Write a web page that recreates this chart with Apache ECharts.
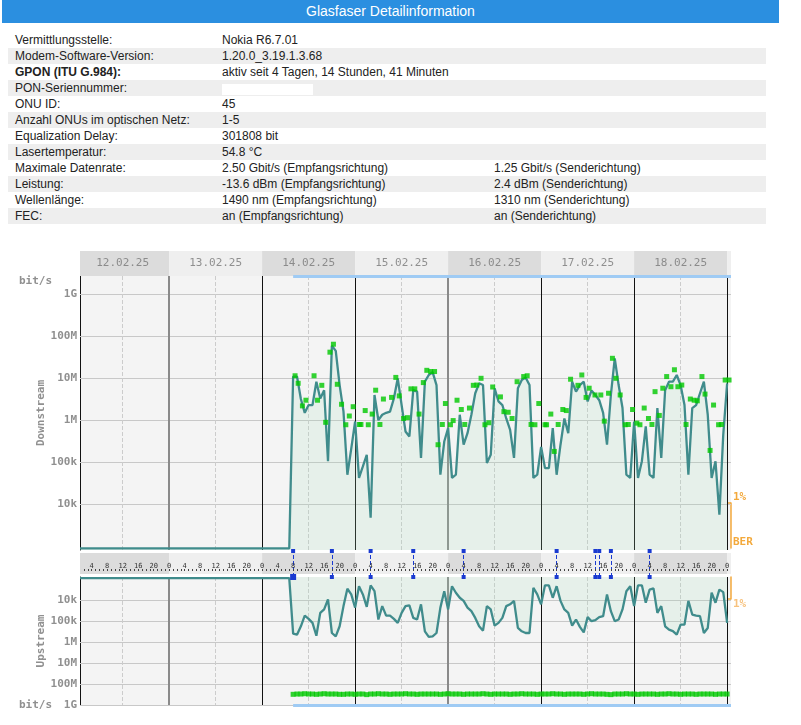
<!DOCTYPE html>
<html>
<head>
<meta charset="utf-8">
<title>Glasfaser Detailinformation</title>
<script src="https://cdn.jsdelivr.net/npm/echarts@6/dist/echarts.min.js"></script>
<style>
    body { margin: 0; background: #fff; font-family: "Liberation Sans", Arial, sans-serif; color: #222; }
    #kopf { position: absolute; left: 2px; top: 0; width: 777px; height: 23px; line-height: 23px;
            background: #2b8fe0; color: #fff; font-size: 14px; text-align: center; }
    .r { position: absolute; left: 8px; width: 758px; height: 16px; line-height: 17px; font-size: 12px; }
    .r.g { background: #eeeeee; }
    .r span { position: absolute; top: 0; white-space: nowrap; }
    .a { left: 7px; } .b { left: 214px; } .c { left: 486px; }
    .leer { position: absolute; left: 214px; top: 4px; width: 91px; height: 11px; background: #fff; }
    #main { position: absolute; left: 0; top: 240px; width: 801px; height: 485px; }
</style>
</head>
<body>
<div id="kopf">Glasfaser Detailinformation</div>
<div class="r" style="top:32px"><span class="a">Vermittlungsstelle:</span><span class="b">Nokia R6.7.01</span></div>
<div class="r g" style="top:48px"><span class="a">Modem-Software-Version:</span><span class="b">1.20.0_3.19.1.3.68</span></div>
<div class="r" style="top:64px"><span class="a"><b>GPON (ITU G.984):</b></span><span class="b">aktiv seit 4 Tagen, 14 Stunden, 41 Minuten</span></div>
<div class="r g" style="top:80px"><span class="a">PON-Seriennummer:</span><div class="leer"></div></div>
<div class="r" style="top:96px"><span class="a">ONU ID:</span><span class="b">45</span></div>
<div class="r g" style="top:112px"><span class="a">Anzahl ONUs im optischen Netz:</span><span class="b">1-5</span></div>
<div class="r" style="top:128px"><span class="a">Equalization Delay:</span><span class="b">301808 bit</span></div>
<div class="r g" style="top:144px"><span class="a">Lasertemperatur:</span><span class="b">54.8 °C</span></div>
<div class="r" style="top:160px"><span class="a">Maximale Datenrate:</span><span class="b">2.50 Gbit/s (Empfangsrichtung)</span><span class="c">1.25 Gbit/s (Senderichtung)</span></div>
<div class="r g" style="top:176px"><span class="a">Leistung:</span><span class="b">-13.6 dBm (Empfangsrichtung)</span><span class="c">2.4 dBm (Senderichtung)</span></div>
<div class="r" style="top:192px"><span class="a">Wellenlänge:</span><span class="b">1490 nm (Empfangsrichtung)</span><span class="c">1310 nm (Senderichtung)</span></div>
<div class="r g" style="top:208px"><span class="a">FEC:</span><span class="b">an (Empfangsrichtung)</span><span class="c">an (Senderichtung)</span></div>

<div id="main"></div>
<script type="text/javascript">
    // Zeitachse in Stunden ab 12.02.25 00:00
    var xMin = 1, xMax = 169;
    var dayLabels = ['12.02.25', '13.02.25', '14.02.25', '15.02.25', '16.02.25', '17.02.25', '18.02.25'];
    var dayBorderHours = [24, 48, 72, 96, 120, 144, 168];
    var weekBorderHours = [24, 96];
    var noonHours = [12, 36, 60, 84, 108, 132, 156];
    var stripLabelHours = [4, 8, 12, 16, 20, 24];
    var rateTickValues = [1e4, 1e5, 1e6, 1e7, 1e8, 1e9];
    var rateTickLabels = ['10k', '100k', '1M', '10M', '100M', '1G'];
    var berLabels = ['BER', '1%'];

    var firstHour = 56;          // 14.02.25 08:00, ab hier stuendliche Werte
    var dsFloorRate = 870;       // vor Sync: Linie am unteren Rand
    var usFloorRate = 900;
    var eventHours = [56, 66, 76, 87, 100, 124, 134, 135, 138, 148];

    // Downstream bit/s, Stunde 56..168
    var dsRate = [
        11e6, 11e6, 3.2e6, 1.5e6, 2.3e6, 2.3e6, 8.3e6, 3.3e6, 5.2e6, 105e3, 60e6, 45e6,
        6.9e6, 1.6e6, 50e3, 210e3, 930e3, 42e3, 79e3, 150e3, 4.7e3, 4e6, 1e6, 1.35e6,
        1.5e6, 1.6e6, 3.3e6, 10e6, 2.3e6, 540e3, 410e3, 5.2e6, 4.8e6, 126e3, 8.3e6, 12e6,
        14e6, 6.9e6, 50e3, 310e3, 650e3, 42e3, 50e3, 1.35e6, 260e3, 490e3, 1.35e6, 4.4e6,
        7.6e6, 6.9e6, 95e3, 150e3, 5.8e6, 2.8e6, 2.3e6, 1.1e6, 590e3, 126e3, 5.8e6, 9.1e6,
        10.5e6, 6.9e6, 42e3, 50e3, 230e3, 72e3, 72e3, 650e3, 50e3, 260e3, 1.1e6, 490e3,
        8.3e6, 4.8e6, 6.9e6, 8.3e6, 2.8e6, 5.1e6, 4e6, 3e6, 1.5e6, 260e3, 4e6, 30e6,
        6.9e6, 1.95e6, 50e3, 42e3, 930e3, 42e3, 105e3, 710e3, 50e3, 42e3, 1.95e6, 126e3,
        5.2e6, 8.3e6, 8.3e6, 12e6, 6.8e6, 2.3e6, 50e3, 1.95e6, 2.3e6, 4.4e6, 8.3e6, 1.35e6,
        42e3, 105e3, 5.6e3, 450e3, 7.6e6
    ];

    // Downstream Spitzenwerte (gruene Punkte)
    var dsPeakHour = [
        56.5, 57.3, 58.4, 59.3, 61.4, 62.3, 63.4, 64.4, 65.5, 66.4, 67.4, 68.5,
        69.6, 70.5, 71.5, 73.1, 73.5, 74.6, 75.4, 76.4, 77.3, 78.4, 79.3, 81.4,
        82.5, 83.4, 84.5, 85.5, 86.4, 87.4, 88.5, 89.6, 90.5, 91.5, 92.5, 93.4,
        94.5, 95.3, 96.6, 97.3, 98.3, 99.4, 100.3, 101.5, 102.5, 103.4, 104.5, 105.5,
        106.5, 107.5, 109.5, 110.4, 111.5, 112.5, 113.8, 115.5, 116.4, 117.4, 118.4, 119.4,
        121.0, 121.4, 122.5, 123.4, 124.4, 125.6, 126.5, 127.6, 129.5, 130.5, 131.6, 132.4,
        133.9, 135.4, 136.3, 137.4, 138.4, 139.3, 140.4, 141.7, 142.5, 143.6, 144.7, 145.5,
        146.6, 147.7, 148.6, 149.4, 150.5, 151.4, 152.4, 153.5, 154.4, 155.3, 156.3, 157.4,
        158.5, 159.5, 160.3, 161.5, 162.3, 163.6, 164.5, 165.8, 166.5, 167.5, 168.5
    ];
    var dsPeakRate = [
        11.5e6, 7.6e6, 2.2e6, 3.0e6, 11.5e6, 3.0e6, 6.8e6, 890e3, 42e6, 65e6, 7.2e6, 2.4e6,
        780e3, 1.26e6, 2.1e6, 790e3, 790e3, 1.7e6, 780e3, 1.4e6, 5.2e6, 790e3, 3.2e6, 3.5e6,
        10.5e6, 3.8e6, 1.1e6, 1.15e6, 5.6e6, 5.6e6, 1.4e6, 7.9e6, 15.5e6, 14.5e6, 14.5e6, 260e3,
        790e3, 2.5e6, 780e3, 980e3, 3.0e6, 1.8e6, 790e3, 1.95e6, 6.8e6, 6.9e6, 10e6, 780e3,
        870e3, 6.2e6, 3.6e6, 1.6e6, 1.55e6, 1.1e6, 8.3e6, 11e6, 11.5e6, 790e3, 780e3, 2.5e6,
        780e3, 780e3, 1.4e6, 180e3, 790e3, 1.8e6, 1.7e6, 9.5e6, 6.8e6, 12e6, 3.5e6, 5.8e6,
        4e6, 4e6, 950e3, 4.4e6, 30e6, 10e6, 4e6, 780e3, 790e3, 1.8e6, 850e3, 780e3,
        1.95e6, 1.1e6, 790e3, 4.8e6, 1.3e6, 5.8e6, 11e6, 6.3e6, 16e6, 6.3e6, 6.9e6, 790e3,
        3.2e6, 3.0e6, 2.9e6, 11e6, 4.2e6, 190e3, 2.3e6, 780e3, 790e3, 9.1e6, 9.1e6
    ];

    // Upstream bit/s, Stunde 56..168
    var usRate = [
        398e3, 447e3, 178e3, 55e3, 79e3, 123e3, 501e3, 41e3, 28e3, 9.3e3, 372e3, 537e3,
        178e3, 19.5e3, 2.9e3, 5.4e3, 23e3, 2.2e3, 5.4e3, 21e3, 2.0e3, 3.8e3, 85e3, 19.5e3,
        55e3, 55e3, 79e3, 123e3, 41e3, 19.5e3, 18e3, 71e3, 85e3, 16e3, 309e3, 575e3,
        537e3, 372e3, 23e3, 3.8e3, 28e3, 2.2e3, 4.5e3, 7.8e3, 11e3, 23e3, 34e3, 71e3,
        178e3, 288e3, 19.5e3, 28e3, 166e3, 123e3, 71e3, 19.5e3, 16e3, 11e3, 214e3, 309e3,
        372e3, 372e3, 2.6e3, 5.4e3, 16e3, 2.0e3, 2.0e3, 7.8e3, 2.2e3, 11e3, 28e3, 41e3,
        166e3, 85e3, 190e3, 347e3, 65e3, 102e3, 91e3, 65e3, 59e3, 5.4e3, 34e3, 102e3,
        85e3, 28e3, 3.8e3, 2.2e3, 19.5e3, 2.0e3, 2.0e3, 13.5e3, 3.2e3, 2.8e3, 41e3, 19.5e3,
        178e3, 257e3, 302e3, 447e3, 148e3, 148e3, 11e3, 49e3, 55e3, 59e3, 372e3, 214e3,
        4.5e3, 13.5e3, 3.2e3, 4.2e3, 123e3
    ];

    // Upstream Spitzenwerte, Stunde 56..168
    var usPeakRate = [
        3.1e8, 3.0e8, 3.0e8, 2.9e8, 3.0e8, 3.0e8, 3.1e8, 3.0e8, 2.9e8, 3.0e8, 3.0e8, 3.0e8,
        3.1e8, 3.1e8, 3.0e8, 3.0e8, 3.1e8, 3.0e8, 3.0e8, 3.2e8, 3.0e8, 3.0e8, 2.9e8, 3.0e8,
        3.0e8, 3.1e8, 3.0e8, 3.0e8, 3.0e8, 2.9e8, 3.0e8, 3.0e8, 3.1e8, 3.0e8, 3.0e8, 3.0e8,
        3.0e8, 3.0e8, 3.1e8, 3.0e8, 2.9e8, 3.0e8, 3.0e8, 3.0e8, 3.1e8, 3.0e8, 3.0e8, 3.0e8,
        3.0e8, 2.9e8, 3.0e8, 3.1e8, 3.0e8, 3.0e8, 3.0e8, 3.0e8, 3.1e8, 3.0e8, 3.0e8, 2.9e8,
        3.0e8, 3.0e8, 3.0e8, 3.1e8, 3.0e8, 3.0e8, 3.0e8, 2.9e8, 3.0e8, 3.0e8, 3.1e8, 3.0e8,
        3.0e8, 3.0e8, 3.0e8, 3.1e8, 3.0e8, 2.9e8, 3.0e8, 3.0e8, 3.0e8, 3.1e8, 3.2e8, 3.0e8,
        3.0e8, 3.0e8, 2.9e8, 3.0e8, 3.0e8, 3.1e8, 3.0e8, 3.0e8, 3.0e8, 3.0e8, 3.1e8, 3.0e8,
        3.0e8, 2.9e8, 3.0e8, 3.0e8, 3.1e8, 3.0e8, 3.0e8, 3.0e8, 3.1e8, 3.0e8, 3.0e8, 3.0e8,
        3.0e8, 3.1e8, 3.0e8, 3.0e8, 3.0e8
    ];

    var dsMin = 800, dsMax = 2.76e9, usMin = 800, usMax = 1e9;
    var mono = 'DejaVu Sans Mono';
    var teal = '#408c8c', green = '#00c800', orange = '#f3a93c';
    var shadeDark = '#dcdcdc', shadeLight = '#efefef';

    function hourly(rates) {
        return rates.map(function (v, i) { return [firstHour + i, v]; });
    }
    var dsLine = [[xMin, dsFloorRate], [firstHour - 1, dsFloorRate]].concat(hourly(dsRate));
    var usLine = [[xMin, usFloorRate], [firstHour - 1, usFloorRate]].concat(hourly(usRate));
    var dsPeaks = dsPeakHour.map(function (h, i) { return [h, dsPeakRate[i]]; });
    var usPeaks = hourly(usPeakRate);

    function rateLabel(v) {
        var e = Math.log10(v);
        var i = rateTickValues.indexOf(Math.pow(10, Math.round(e)));
        if (Math.abs(e - Math.round(e)) > 0.01 || i < 0) return '';
        return rateTickLabels[i];
    }

    function dayShades(y0, y1) {
        var out = [];
        for (var i = 0; i <= dayLabels.length; i++) {
            var s = Math.max(xMin, i * 24), e = Math.min(xMax, i * 24 + 24);
            out.push([{xAxis: s, yAxis: y0, itemStyle: {color: i % 2 ? shadeLight : shadeDark}},
                      {xAxis: e, yAxis: y1}]);
        }
        return out;
    }

    function gridLines(edge) {
        var out = [];
        rateTickValues.forEach(function (v) {
            out.push({yAxis: v, lineStyle: {color: '#c8c8c8', width: 1, type: 'solid'}});
        });
        noonHours.forEach(function (h) {
            out.push({xAxis: h, lineStyle: {color: '#cccccc', width: 1, type: 'dashed'}});
        });
        dayBorderHours.forEach(function (h) {
            var wk = weekBorderHours.indexOf(h) >= 0;
            out.push({xAxis: h, lineStyle: {color: wk ? '#8a8a8a' : '#111', width: wk ? 2 : 1, type: 'solid'}});
        });
        // Messzeitraum als blaue Leiste
        out.push([{coord: [firstHour, edge], lineStyle: {color: '#9fcbf4', width: 3, type: 'solid'}},
                  {coord: [xMax, edge]}]);
        return out;
    }

    var stripTicks = [], stripLabels = [];
    for (var h = 2; h <= 168; h++) stripTicks.push(h);
    for (var d = 0; d < dayLabels.length; d++) {
        stripLabelHours.forEach(function (sh) { stripLabels.push(d * 24 + sh); });
    }

    var axisFont = {color: '#909090', fontFamily: mono, fontSize: 11, fontWeight: 'bold'};

    var myChart = echarts.init(document.getElementById('main'));
    var option = {
        animation: false,
        grid: [
            {left: 80, width: 651, top: 11, height: 25},
            {left: 80, width: 651, top: 36, height: 274, show: true, backgroundColor: '#f4f4f4', borderWidth: 0},
            {left: 80, width: 651, top: 311, height: 26},
            {left: 80, width: 651, top: 337, height: 128, show: true, backgroundColor: '#f4f4f4', borderWidth: 0},
            {left: 731, width: 1, top: 263, height: 45},
            {left: 731, width: 1, top: 337, height: 22}
        ],
        xAxis: [
            {type: 'value', gridIndex: 0, min: xMin, max: xMax, show: false},
            {type: 'value', gridIndex: 1, min: xMin, max: xMax, show: false},
            {type: 'value', gridIndex: 2, min: xMin, max: xMax, position: 'top', offset: -8, z: 10,
                axisLine: {show: false},
                axisTick: {show: true, inside: true, length: 2, customValues: stripTicks,
                    lineStyle: {color: '#444'}},
                axisLabel: {show: true, inside: true, margin: 4, customValues: stripLabels,
                    formatter: function (v) { return String(v % 24); },
                    color: '#333', fontFamily: mono, fontSize: 7},
                splitLine: {show: false}},
            {type: 'value', gridIndex: 3, min: xMin, max: xMax, show: false},
            {type: 'value', gridIndex: 4, min: 0, max: 1, show: false},
            {type: 'value', gridIndex: 5, min: 0, max: 1, show: false}
        ],
        yAxis: [
            {type: 'value', gridIndex: 0, min: 0, max: 1, show: false},
            {type: 'log', gridIndex: 1, min: dsMin, max: dsMax, position: 'left',
                axisLine: {show: true, lineStyle: {color: '#111'}},
                axisTick: {show: false},
                axisLabel: Object.assign({formatter: rateLabel, margin: 3}, axisFont),
                splitLine: {show: false},
                name: 'bit/s', nameLocation: 'end', nameGap: -5,
                nameTextStyle: Object.assign({align: 'right', verticalAlign: 'middle', padding: [0, 28, 0, 0]}, axisFont)},
            {type: 'value', gridIndex: 1, min: 0, max: 1, position: 'left',
                axisLine: {show: false}, axisTick: {show: false}, axisLabel: {show: false}, splitLine: {show: false},
                name: 'Downstream', nameLocation: 'middle', nameRotate: 90, nameGap: 33, nameTextStyle: axisFont},
            {type: 'value', gridIndex: 2, min: 0, max: 1, show: false},
            {type: 'log', gridIndex: 3, min: usMin, max: usMax, inverse: true, position: 'left',
                axisLine: {show: true, lineStyle: {color: '#111'}},
                axisTick: {show: false},
                axisLabel: Object.assign({formatter: rateLabel, margin: 3}, axisFont),
                splitLine: {show: false},
                name: 'bit/s', nameLocation: 'end', nameGap: 0,
                nameTextStyle: Object.assign({align: 'right', verticalAlign: 'middle', padding: [0, 28, 0, 0]}, axisFont)},
            {type: 'value', gridIndex: 3, min: 0, max: 1, position: 'left',
                axisLine: {show: false}, axisTick: {show: false}, axisLabel: {show: false}, splitLine: {show: false},
                name: 'Upstream', nameLocation: 'middle', nameRotate: 90, nameGap: 33, nameTextStyle: axisFont},
            {type: 'value', gridIndex: 4, min: 0, max: 1,
                axisLine: {show: true, lineStyle: {color: orange, width: 1.5}},
                axisTick: {show: true, length: 4, customValues: [1], lineStyle: {color: orange, width: 1.5}},
                axisLabel: {show: true, inside: true, margin: 2, customValues: [0, 1],
                    formatter: function (v) { return berLabels[v]; }, verticalAlign: 'bottom',
                    color: orange, fontFamily: mono, fontSize: 11, fontWeight: 'bold'},
                splitLine: {show: false}},
            {type: 'value', gridIndex: 5, min: 0, max: 1, inverse: true,
                axisLine: {show: true, lineStyle: {color: orange, width: 1.5}},
                axisTick: {show: true, length: 4, customValues: [1], lineStyle: {color: orange, width: 1.5}},
                axisLabel: {show: true, inside: true, margin: 2, customValues: [1],
                    formatter: function (v) { return berLabels[v]; }, verticalAlign: 'top',
                    color: '#f7c27e', fontFamily: mono, fontSize: 11, fontWeight: 'bold'},
                splitLine: {show: false}}
        ],
        series: [
            {   // Datumszeile
                type: 'scatter', xAxisIndex: 0, yAxisIndex: 0, symbolSize: 0, silent: true,
                data: dayLabels.map(function (t, i) { return [i * 24 + 12, 0.5]; }),
                label: {show: true, position: 'inside', color: '#777', fontFamily: mono, fontSize: 11,
                    formatter: function (p) { return dayLabels[p.dataIndex]; }},
                markArea: {silent: true, z: 1, data: dayShades(0, 1)}
            },
            {   // Downstream
                type: 'line', xAxisIndex: 1, yAxisIndex: 1, data: dsLine, symbol: 'none', z: 3,
                lineStyle: {color: teal, width: 2.3},
                areaStyle: {color: 'rgba(164,220,188,0.25)', origin: 'start'},
                markLine: {silent: true, symbol: 'none', z: 1, label: {show: false}, data: gridLines(dsMax)}
            },
            {
                type: 'scatter', xAxisIndex: 1, yAxisIndex: 1, data: dsPeaks, z: 4,
                symbol: 'rect', symbolSize: 5, itemStyle: {color: green}
            },
            {   // Stundenleiste mit Ereignissen
                type: 'scatter', xAxisIndex: 2, yAxisIndex: 3, symbolSize: 0, silent: true,
                data: eventHours.map(function (h) { return [h, 0.5]; }),
                markArea: {silent: true, z: 1, data: dayShades(0.115, 0.923)},
                markLine: {silent: true, symbol: ['rect', 'rect'], symbolSize: 4, label: {show: false},
                    lineStyle: {color: '#1a3ad0', type: 'dashed', width: 1},
                    data: eventHours.map(function (h, i) { return i === 0 ? {xAxis: h, symbolSize: 6} : {xAxis: h}; })}
            },
            {   // Upstream
                type: 'line', xAxisIndex: 3, yAxisIndex: 4, data: usLine, symbol: 'none', z: 3,
                lineStyle: {color: teal, width: 2.3},
                areaStyle: {color: 'rgba(164,220,188,0.25)', origin: 'start'},
                markLine: {silent: true, symbol: 'none', z: 1, label: {show: false}, data: gridLines(usMax)}
            },
            {
                type: 'scatter', xAxisIndex: 3, yAxisIndex: 4, data: usPeaks, z: 4,
                symbol: 'rect', symbolSize: 5, itemStyle: {color: green}
            }
        ]
    };
    myChart.setOption(option);
</script>
</body>
</html>
